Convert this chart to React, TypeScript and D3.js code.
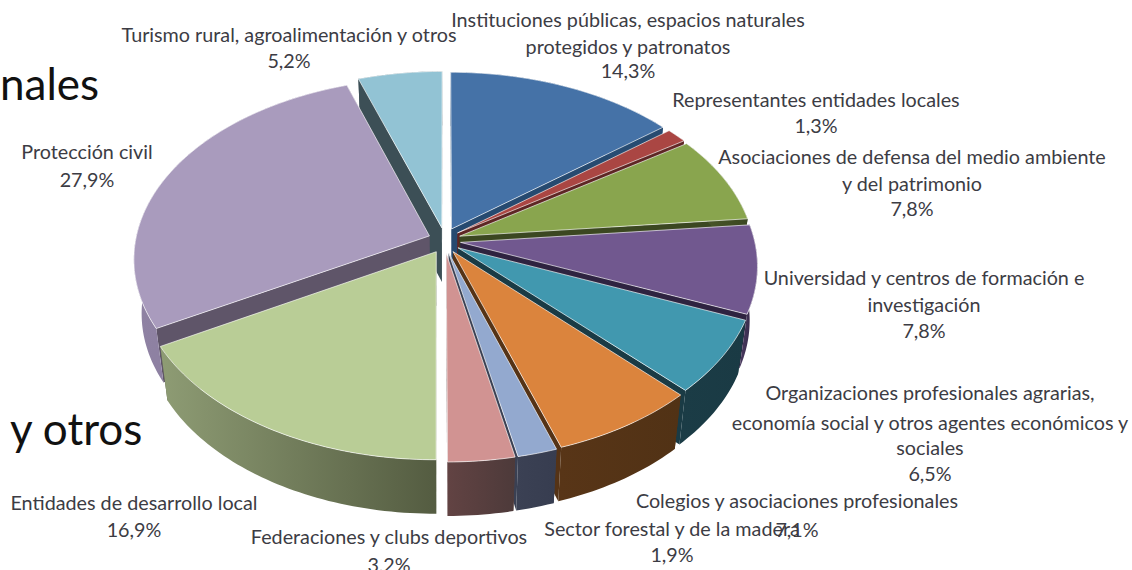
import React from "react";
import * as d3 from "d3";

const WIDTH = 1132;
const HEIGHT = 570;

const sliceNames = ["Instituciones", "Representantes", "Asociaciones", "Universidad", "Organizaciones", "Colegios", "Sector", "Federaciones", "Entidades", "Proteccion", "Turismo"];
const sliceValues = [14.3, 1.3, 7.8, 7.8, 6.5, 7.1, 1.9, 3.2, 16.9, 27.9, 5.2];
const topColors = ["#4572a7", "#aa4643", "#89a54e", "#71588f", "#4198af", "#db843d", "#93a9cf", "#d19392", "#b9cd96", "#a99bbd", "#92c3d4"];
const wallColors = ["#264a70", "#5e2624", "#3b4721", "#2e2340", "#1a3b45", "#553316", "#3a4053", "#5a3f3f", "#565d42", "#5f5569", "#3c4f56"];
const rimStart = ["#2f5480", "#6e2d2b", "#4f5f2d", "#4a3a60", "#1b3c46", "#583517", "#3b4154", "#624343", "#8e9c74", "#8f82a3", "#3c4f56"];
const rimEnd = ["#264a70", "#5e2624", "#3b4721", "#2e2340", "#1a3a44", "#513215", "#373d50", "#4d3a3a", "#545c41", "#85789a", "#3c4f56"];

const labelLines = [
  ["Instituciones públicas, espacios naturales", "protegidos y patronatos"],
  ["Representantes entidades locales"],
  ["Asociaciones de defensa del medio ambiente", "y del patrimonio"],
  ["Universidad y centros de formación e", "investigación"],
  ["Organizaciones profesionales agrarias,", "economía social y otros agentes económicos y", "sociales"],
  ["Colegios y asociaciones profesionales"],
  ["Sector forestal y de la madera"],
  ["Federaciones y clubs deportivos"],
  ["Entidades de desarrollo local"],
  ["Protección civil"],
  ["Turismo rural, agroalimentación y otros"],
];
const labelX = [628, 816, 912, 924, 930, 797, 672, 389, 134, 87, 289];
const labelY = [
  [27, 54, 78],
  [107, 133],
  [164, 191, 216],
  [285, 312, 338],
  [400, 430, 455, 481],
  [508, 537],
  [536, 562],
  [544, 572],
  [510, 537],
  [159, 187],
  [42, 68],
];
const backgroundTexts = [
  { text: "nales", x: 0, y: 100 },
  { text: "y otros", x: 10, y: 445 },
];

const CX = 444.5;
const CY = 240.5;
const RX = 294;
const RY = 179;
const PERSPECTIVE = 0.125;
const EXPLODE_U = 0.055;
const EXPLODE_V = 0.072;
const DEPTH = 54;
const BASE_SHRINK = 0.975;

const project = (u: number, v: number): [number, number] => {
  const w = 1 - PERSPECTIVE * v;
  return [CX + (RX * u) / w, CY + (RY * v) / w];
};
const lower = ([x, y]: [number, number]): [number, number] => [CX + (x - CX) * BASE_SHRINK, y + DEPTH];
const line = d3.line();
const percent = (v: number) => v.toFixed(1).replace(".", ",") + "%";

const pie = d3.pie<number>().sort(null).value((d) => d).startAngle(0).endAngle(2 * Math.PI);

const slices = pie(sliceValues).map((a, i) => {
  const mid = (a.startAngle + a.endAngle) / 2;
  const ou = Math.sin(mid) * EXPLODE_U;
  const ov = -Math.cos(mid) * EXPLODE_V;
  const apex = project(ou, ov);
  const steps = Math.max(4, Math.ceil((a.endAngle - a.startAngle) / 0.02));
  const angle = d3.scaleLinear().domain([0, steps]).range([a.startAngle, a.endAngle]);
  const arc = d3.range(steps + 1).map((s) => project(Math.sin(angle(s)) + ou, -Math.cos(angle(s)) + ov));
  const arcLow = arc.map(lower);
  const apexLow = lower(apex);
  return {
    i,
    order: -Math.cos(mid),
    top: line([apex, ...arc])! + "Z",
    wallA: line([apex, arc[0], arcLow[0], apexLow])! + "Z",
    wallB: line([apex, arc[steps], arcLow[steps], apexLow])! + "Z",
    rim: line([...arc, ...arcLow.slice().reverse()])! + "Z",
  };
});
const paintOrder = slices.slice().sort((a, b) => a.order - b.order);

const FONT = "Lato, 'Open Sans', sans-serif";

export default function App() {
  return (
    <svg width={WIDTH} height={HEIGHT} style={{ position: "absolute", left: 0, top: 0, background: "#fff" }}>
      <defs>
        {sliceNames.map((n, i) => (
          <linearGradient key={n} id={`rim${i}`} x1="0" x2="1" y1="0" y2="0">
            <stop offset="0" stopColor={rimStart[i]} />
            <stop offset="1" stopColor={rimEnd[i]} />
          </linearGradient>
        ))}
      </defs>
      {backgroundTexts.map((t) => (
        <text key={t.text} x={t.x} y={t.y} fontFamily={FONT} fontSize={44} fill="#111">
          {t.text}
        </text>
      ))}
      {paintOrder.map((s) => (
        <g key={s.i}>
          <path d={s.wallA} fill={wallColors[s.i]} />
          <path d={s.wallB} fill={wallColors[s.i]} />
          <path d={s.rim} fill={`url(#rim${s.i})`} />
          <path d={s.top} fill={topColors[s.i]} stroke="#ffffff" strokeOpacity={0.65} strokeWidth={1} strokeLinejoin="round" />
        </g>
      ))}
      <g fontFamily={FONT} fontSize={19.75} fill="#3c3c44" textAnchor="middle">
        {sliceValues.map((v, i) => (
          <g key={sliceNames[i]}>
            {labelLines[i].map((t, j) => (
              <text key={t} x={labelX[i]} y={labelY[i][j]}>
                {t}
              </text>
            ))}
            <text x={labelX[i]} y={labelY[i][labelLines[i].length]}>
              {percent(v)}
            </text>
          </g>
        ))}
      </g>
    </svg>
  );
}
